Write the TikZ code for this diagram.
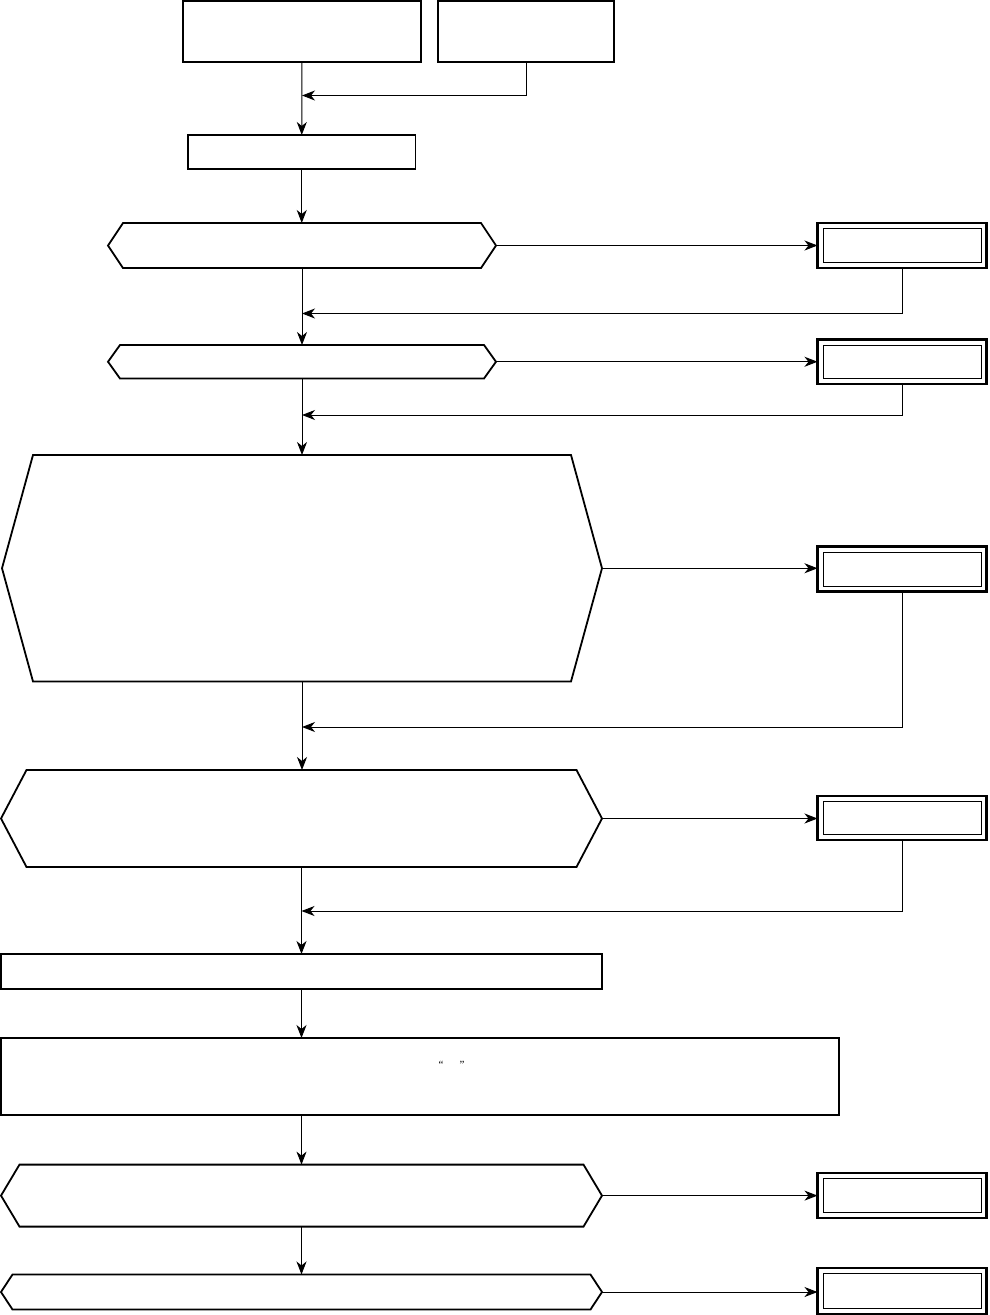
\documentclass[tikz,border=0pt]{standalone}
\usepackage{fontspec}
\setmainfont{Liberation Serif}
\usetikzlibrary{arrows.meta,calc}
\tikzset{
  box/.style={draw, line width=1.8pt, rectangle, inner sep=0pt, outer sep=0pt},
  dbox/.style={draw, line width=2.2pt, rectangle, inner sep=0pt, outer sep=0pt, minimum width=169pt},
  hexbase/.style={rectangle, draw=none, inner sep=0pt, outer sep=0pt},
  hexline/.style={line width=1.8pt, line join=miter},
  inner/.style={line width=1pt},
  conn/.style={line width=1pt, -{Stealth[length=13pt,width=10pt,inset=4pt]}},
  plain/.style={line width=1pt},
}
\newcommand{\hexa}[6]{%
  \node[hexbase, minimum width=#4pt, minimum height=#5pt] (#1) at (#2,#3) {};
  \draw[hexline] (#1.west) -- ([xshift=#6pt]#1.north west) -- ([xshift=-#6pt]#1.north east)
    -- (#1.east) -- ([xshift=-#6pt]#1.south east) -- ([xshift=#6pt]#1.south west) -- cycle;
}
\newcommand{\dbl}[3]{%
  \node[dbox, minimum height=#3pt] (#1) at (902,#2) {};
  \draw[inner] ([xshift=5.5pt,yshift=-5.5pt]#1.north west) rectangle ([xshift=-5.5pt,yshift=5.5pt]#1.south east);
}
\begin{document}
\begin{tikzpicture}[x=1pt,y=-1pt]
\useasboundingbox (0,0) rectangle (989,1315);
% top boxes
\node[box, minimum width=238pt, minimum height=61pt] (A) at (302,31.5) {};
\node[box, minimum width=176pt, minimum height=61pt] (B) at (526,31.5) {};
\node[box, minimum width=227.5pt, minimum height=34pt] (C) at (301.75,152) {};
% hexagons
\hexa{H1}{302}{245.5}{388}{45}{15}
\hexa{H2}{302}{361.75}{388}{33.5}{12}
\hexa{H3}{302}{568.25}{600}{226.5}{31}
\hexa{H4}{301.5}{818.5}{601}{97}{25.5}
\hexa{H5}{301.5}{1195.6}{601}{62}{18.5}
\hexa{H6}{301.5}{1292}{601}{35}{11.5}
% wide boxes
\node[box, minimum width=601pt, minimum height=35pt] (D) at (301.5,971.5) {};
\node[box, minimum width=838pt, minimum height=77pt] (E) at (420,1076.5) {};
\node[font=\fontsize{11}{13}\selectfont, inner sep=0pt] (Q) at (451.5,1065) {“\hspace{16pt}”};
% double boxes
\dbl{R1}{245.5}{45}
\dbl{R2}{361.75}{44.5}
\dbl{R3}{569}{45}
\dbl{R4}{818}{44}
\dbl{R5}{1195.5}{45.6}
\dbl{R6}{1291.2}{45.7}
% main column
\draw[conn] (A.south) -- (C.north);
\draw[conn] (C.south) -- (C.south |- H1.north);
\draw[conn] (H1.south) -- (H2.north);
\draw[conn] (H2.south) -- (H2.south |- H3.north);
\draw[conn] (H3.south) -- (H3.south |- H4.north);
\draw[conn] (H4.south) -- (H4.south |- D.north);
\draw[conn] (D.south) -- (D.south |- E.north);
\draw[conn] (D.south |- E.south) -- (H5.north);
\draw[conn] (H5.south) -- (H6.north);
% side arrows
\draw[conn] (H1.east) -- (H1.east -| R1.west);
\draw[conn] (H2.east) -- (H2.east -| R2.west);
\draw[conn] (H3.east) -- (H3.east -| R3.west);
\draw[conn] (H4.east) -- (H4.east -| R4.west);
\draw[conn] (H5.east) -- (H5.east -| R5.west);
\draw[conn] (H6.east) -- (H6.east -| R6.west);
% returns
\coordinate (b0) at (526,95.5);
\coordinate (b1) at (902,313.5);
\coordinate (b2) at (902,415);
\coordinate (b3) at (902,727);
\coordinate (b4) at (902,911);
\draw[conn] (B.south) -- (b0) -- (b0 -| A.south);
\draw[conn] (R1.south) -- (b1) -- (b1 -| H1.south);
\draw[conn] (R2.south) -- (b2) -- (b2 -| H2.south);
\draw[conn] (R3.south) -- (b3) -- (b3 -| H3.south);
\draw[conn] (R4.south) -- (b4) -- (b4 -| H4.south);
\end{tikzpicture}
\end{document}
